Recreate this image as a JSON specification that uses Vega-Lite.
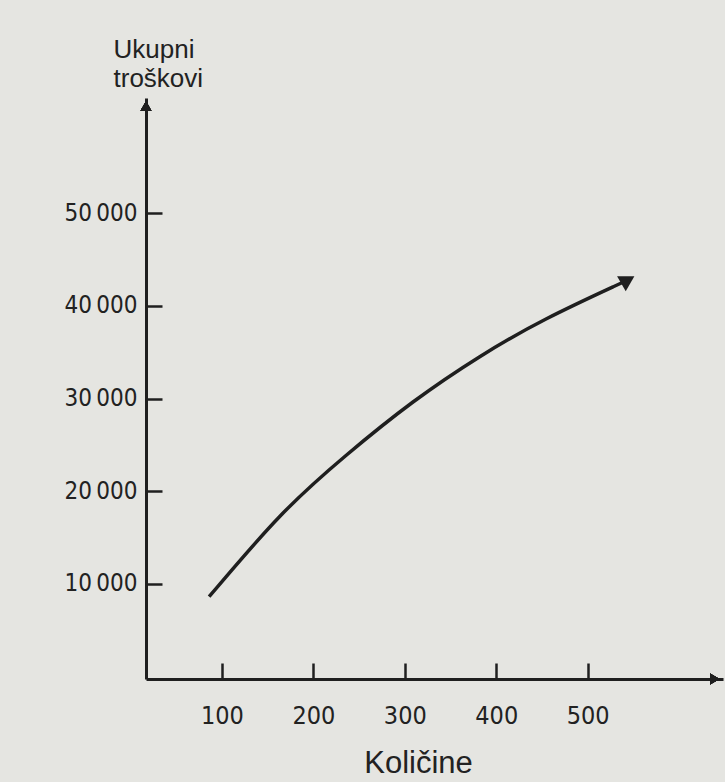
{
  "$schema": "https://vega.github.io/schema/vega-lite/v6.json",
  "width": 577,
  "height": 581,
  "autosize": {"type": "none"},
  "padding": {"left": 146, "top": 98, "right": 2, "bottom": 103},
  "background": "#e5e5e1",
  "config": {"view": {"stroke": null}},
  "data": {
    "values": [
      {"kolicina": 86, "troskovi": 8630},
      {"kolicina": 163, "troskovi": 17260},
      {"kolicina": 236, "troskovi": 23880},
      {"kolicina": 309, "troskovi": 29620},
      {"kolicina": 382, "troskovi": 34510},
      {"kolicina": 455, "troskovi": 38600},
      {"kolicina": 528, "troskovi": 42050},
      {"kolicina": 544, "troskovi": 42780}
    ]
  },
  "layer": [
    {
      "mark": {"type": "line", "interpolate": "natural", "color": "#1f1f1f", "strokeWidth": 3.5},
      "encoding": {
        "x": {
          "field": "kolicina", "type": "quantitative",
          "scale": {"domain": [17, 648], "nice": false, "zero": false},
          "axis": {
            "values": [100, 200, 300, 400, 500],
            "grid": false,
            "domainColor": "#1f1f1f", "domainWidth": 3,
            "tickColor": "#1f1f1f", "tickWidth": 2.5, "tickSize": -16,
            "labelFont": "DejaVu Sans Condensed, Liberation Sans, sans-serif", "labelFontSize": 25, "labelColor": "#222222",
            "labelPadding": 40,
            "title": "Količine",
            "titleFont": "Liberation Sans", "titleFontSize": 31, "titleFontWeight": "normal", "titleColor": "#222222",
            "titleX": 272, "titleY": 93, "titleAlign": "center", "titleBaseline": "alphabetic"
          }
        },
        "y": {
          "field": "troskovi", "type": "quantitative",
          "scale": {"domain": [-243, 62400], "nice": false, "zero": false},
          "axis": {
            "values": [10000, 20000, 30000, 40000, 50000],
            "format": ",d",
            "labelExpr": "replace(datum.label, ',', '\u2009')",
            "grid": false,
            "domainColor": "#1f1f1f", "domainWidth": 3,
            "tickColor": "#1f1f1f", "tickWidth": 2.5, "tickSize": -16,
            "labelFont": "DejaVu Sans Condensed, Liberation Sans, sans-serif", "labelFontSize": 24, "labelColor": "#222222",
            "labelPadding": 25,
            "title": ["Ukupni", "troškovi"],
            "titleFont": "Liberation Sans", "titleFontSize": 26, "titleFontWeight": "normal", "titleColor": "#222222",
            "titleAngle": 0, "titleX": -33, "titleY": -62, "titleAlign": "left", "titleBaseline": "top",
            "titleLineHeight": 29
          }
        }
      }
    },
    {
      "transform": [{"filter": "datum.kolicina == 544"}],
      "mark": {"type": "point", "shape": "triangle-right", "filled": true, "size": 300, "angle": -30, "color": "#1f1f1f", "opacity": 1},
      "encoding": {
        "x": {"field": "kolicina", "type": "quantitative"},
        "y": {"field": "troskovi", "type": "quantitative"}
      }
    },
    {
      "mark": {"type": "point", "shape": "triangle-up", "filled": true, "size": 120, "color": "#1f1f1f", "opacity": 1},
      "encoding": {
        "x": {"datum": 17, "type": "quantitative"},
        "y": {"datum": 61540, "type": "quantitative"}
      }
    },
    {
      "mark": {"type": "point", "shape": "triangle-right", "filled": true, "size": 120, "color": "#1f1f1f", "opacity": 1},
      "encoding": {
        "x": {"datum": 639, "type": "quantitative"},
        "y": {"datum": -243, "type": "quantitative"}
      }
    }
  ]
}
